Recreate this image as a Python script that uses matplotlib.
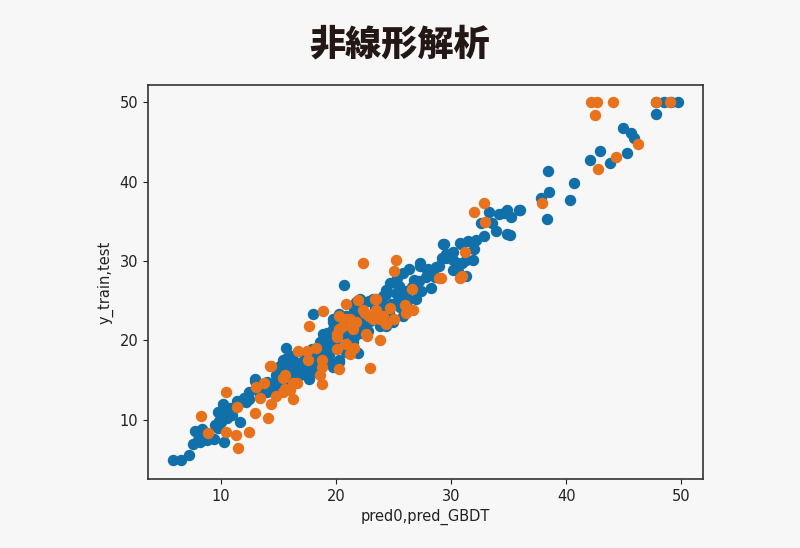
import matplotlib
matplotlib.use("Agg")
import matplotlib.pyplot as plt

# predicted vs actual (train, blue)
train_pred = [
    5.9, 6.6, 7.3, 7.6, 8.2, 8.8, 9.4, 10.3, 7.8, 8.4, 8.5,
    9.5, 9.9, 10.4, 10.5, 10.2, 10.9, 11.7, 11.4, 12.0, 12.5, 13.0, 12.5, 13.4, 14.0,
    14.8, 15.6, 16.3, 17.2, 17.5, 14.3, 16.0,
    13.0, 15.7, 18.0,
    14.6, 15.4, 16.0, 16.6, 17.3, 17.9, 18.6, 19.2, 19.8, 20.4, 20.9, 21.6, 22.4, 23.2, 24.1, 24.4,
    16.9, 17.7, 18.3, 19.5, 20.3, 20.9, 21.8, 21.5, 22.6, 23.8, 24.4, 24.5,
    18.9, 19.8, 20.3, 21.8, 15.4, 13.4, 19.8, 20.3, 21.9,
    29.3, 30.8, 29.6, 30.2, 31.0, 30.6, 31.3, 28.7, 28.1, 28.3, 27.3, 26.4, 25.8, 25.3, 24.7,
    25.5, 26.7, 27.0, 26.1, 25.3, 24.4, 23.8, 22.9, 25.0, 25.8, 22.1, 20.7, 19.8, 19.2, 19.2,
    20.3, 21.5, 22.1, 24.4, 29.4,
    38.4, 38.5, 37.8, 38.3, 40.3, 40.7, 35.9, 36.0, 34.9, 34.6, 34.2, 35.2, 34.9, 35.1, 33.9, 33.3,
    32.6, 33.6, 32.9, 32.2, 31.5, 30.9, 32.0, 30.2, 29.6, 30.5, 31.3, 31.9, 30.2, 29.0, 27.9, 27.3,
    42.1, 42.9, 43.8, 45.3, 44.9, 45.6, 45.9, 47.8, 47.8, 48.5, 49.1, 49.7,
    15.0, 15.5, 16.2, 16.8, 17.2, 17.8, 18.4, 19.0, 19.5, 20.0, 20.6, 21.2, 21.8, 22.4, 23.0,
    23.6, 24.2, 24.8, 25.4, 26.0, 26.6, 27.2, 27.8, 9.8, 10.8, 11.5, 12.2,
    8.0, 8.6, 9.0, 9.8, 10.0, 10.6, 11.0,
    14.0, 14.8, 15.2, 15.8, 16.4, 16.2, 17.0, 17.6, 18.2, 18.8, 19.4, 19.2, 20.0, 20.6, 21.0,
    21.6, 22.2, 22.8, 23.4, 24.0, 24.6, 25.2, 25.6, 26.2, 26.8, 27.4, 28.0, 28.6, 29.2,
]
train_true = [
    5.0, 5.0, 5.6, 7.0, 7.2, 7.4, 7.6, 7.2, 8.6, 8.8, 8.6,
    9.3, 9.9, 10.5, 11.4, 12.0, 10.9, 9.7, 12.4, 12.8, 12.6, 14.9, 13.5, 13.2, 13.5,
    15.6, 16.6, 17.2, 16.8, 15.8, 14.5, 15.3,
    15.1, 19.0, 23.3,
    14.7, 15.6, 16.4, 17.2, 18.1, 18.9, 19.8, 20.6, 21.4, 22.3, 23.1, 23.9, 24.8, 25.2, 25.6, 26.4,
    15.6, 15.1, 16.0, 17.2, 17.6, 18.5, 18.5, 19.8, 21.4, 21.8, 22.7, 24.4,
    20.8, 22.3, 23.3, 24.8, 17.6, 14.1, 16.7, 17.3, 18.4,
    32.1, 32.3, 30.9, 30.2, 29.8, 28.8, 28.1, 29.2, 28.5, 26.6, 29.4, 29.0, 28.5, 27.9, 27.3,
    26.9, 26.9, 25.2, 25.6, 24.8, 25.8, 24.8, 25.0, 22.3, 23.1, 25.2, 27.0, 22.7, 21.0, 19.7,
    23.1, 23.1, 21.0, 21.8, 32.1,
    41.3, 38.7, 38.0, 35.3, 37.7, 39.8, 36.5, 36.5, 36.5, 36.1, 35.9, 35.5, 33.4, 33.3, 33.8, 36.2,
    34.8, 34.8, 33.2, 32.7, 32.5, 32.1, 31.5, 31.2, 30.4, 29.8, 30.2, 30.2, 28.9, 29.4, 28.9, 29.8,
    42.8, 43.9, 42.4, 43.6, 46.8, 46.1, 45.5, 48.6, 50.0, 50.0, 50.0, 50.0,
    16.0, 15.0, 15.8, 16.5, 17.5, 17.0, 18.3, 18.8, 19.5, 20.2, 20.8, 21.0, 21.5, 22.0, 22.5,
    23.5, 24.0, 24.6, 25.0, 26.2, 26.8, 27.5, 28.0, 11.0, 11.5, 12.0, 12.3,
    7.5, 7.6, 8.0, 9.0, 9.7, 10.2, 10.6,
    14.8, 14.2, 16.8, 17.8, 16.0, 18.0, 16.0, 18.4, 17.0, 19.6, 18.2, 20.6, 19.0, 22.0, 19.6,
    20.4, 23.0, 21.2, 24.2, 22.8, 23.6, 26.0, 24.2, 25.0, 27.6, 26.2, 29.0, 28.0, 30.4,
]

# predicted vs actual (test, orange)
test_pred = [
    8.3, 8.9, 10.5, 11.3, 11.5, 12.5, 10.5, 11.4, 13.0, 14.1, 13.4, 13.1, 13.8, 14.4, 14.4,
    14.8, 15.4, 16.0, 16.3, 15.6, 16.6,
    18.9, 17.7, 20.9, 21.9, 23.5, 20.3, 21.2, 20.6, 22.5, 23.2, 24.1, 24.4, 22.6, 23.8,
    20.1, 20.1, 20.9, 21.6, 21.2, 18.3, 16.7, 17.5, 17.6, 18.8, 18.8, 18.6, 20.3, 18.8, 23.0,
    14.3, 15.4, 16.3, 15.6,
    22.4, 25.2, 25.1, 26.6, 29.0, 30.8, 31.0, 31.2, 23.4, 22.4, 23.5, 24.7, 26.0, 26.7,
    26.1, 25.1, 23.8, 22.9, 21.8, 20.9, 20.3, 21.5, 20.1, 22.7,
    32.9, 32.0, 33.0, 37.9, 29.1,
    42.2, 42.7, 44.1, 42.5, 44.3, 42.8, 46.2, 47.8, 49.0,
]
test_true = [
    10.5, 8.3, 8.5, 8.1, 6.4, 8.5, 13.5, 11.6, 10.9, 10.2, 12.7, 14.1, 14.6, 12.0, 16.8,
    13.0, 13.5, 13.7, 12.6, 15.6, 14.7,
    23.7, 21.8, 24.6, 25.1, 25.2, 23.1, 22.7, 21.8, 23.5, 22.7, 23.1, 22.1, 20.8, 20.0,
    20.8, 18.9, 19.5, 19.1, 18.3, 19.1, 18.7, 18.7, 17.6, 17.6, 16.6, 15.6, 16.4, 14.5, 16.5,
    16.8, 15.3, 14.7, 13.9,
    29.7, 30.2, 28.8, 26.5, 27.9, 27.9, 28.1, 31.2, 25.2, 23.9, 23.9, 24.1, 24.5, 23.9,
    23.5, 22.7, 22.7, 23.1, 22.3, 22.7, 21.4, 21.4, 20.4, 20.6,
    37.3, 36.2, 34.9, 37.3, 27.9,
    50.0, 50.0, 50.0, 48.4, 43.1, 41.6, 44.8, 50.0, 50.0,
]

title_text = "非線形解析"
x_label = "pred0,pred_GBDT"
y_label = "y_train,test"

bg = "#f7f7f7"
fig = plt.figure(figsize=(8.0, 5.48), dpi=100, facecolor=bg)
ax = fig.add_axes([0.185, 0.126, 0.694, 0.719], facecolor=bg)

ax.scatter(train_pred, train_true, s=52, color="#1170aa", zorder=2)
ax.scatter(test_pred, test_true, s=52, color="#e8711c", zorder=3)

ax.set_xlim(3.7, 51.9)
ax.set_ylim(2.55, 52.2)
ax.set_xticks([10, 20, 30, 40, 50])
ax.set_yticks([10, 20, 30, 40, 50])
ax.tick_params(labelsize=10.5, colors="#222222")
ax.set_xlabel(x_label, fontsize=10.5, color="#222222")
ax.set_ylabel(y_label, fontsize=10.5, color="#222222")
for sp in ax.spines.values():
    sp.set_color("#333333")
    sp.set_linewidth(1.2)

fig.text(0.5, 0.918, title_text, ha="center", va="center", fontsize=26,
         fontweight="black", color="#231815",
         family=["Noto Sans CJK JP", "DejaVu Sans"])

fig.savefig("out.png", dpi=100, facecolor=bg)
